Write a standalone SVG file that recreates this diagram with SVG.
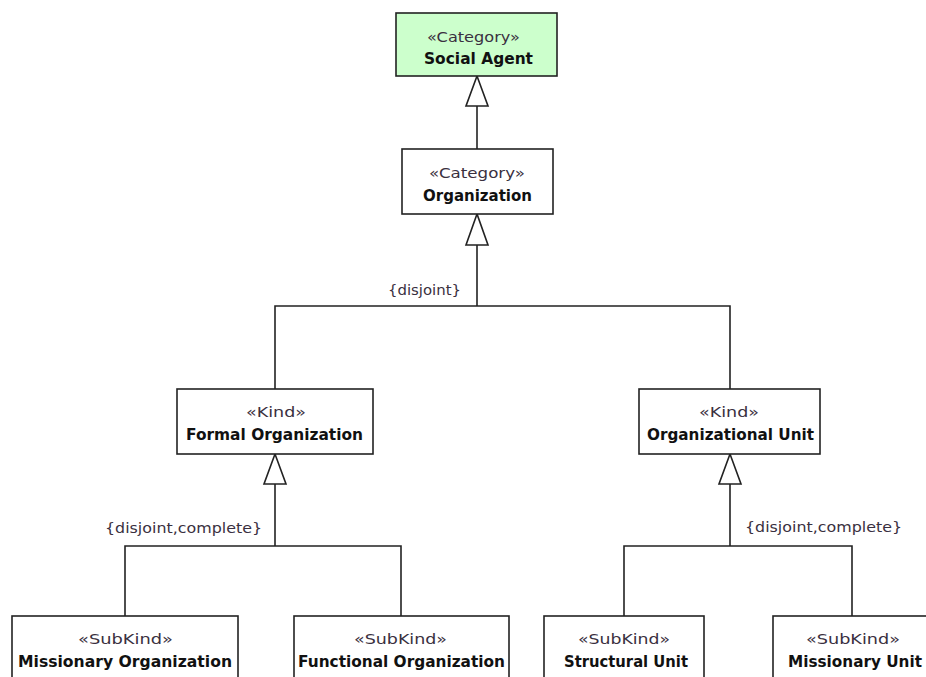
<svg xmlns="http://www.w3.org/2000/svg" width="926" height="677" viewBox="0 0 926 677">
<style>
.box{fill:#ffffff;stroke:#222222;stroke-width:1.6}
.green{fill:#ccffcc}
.st{font-family:"DejaVu Sans",Verdana,sans-serif;font-size:14px;fill:#3a3040;text-anchor:middle}
.nm{font-family:"DejaVu Sans",Verdana,sans-serif;font-size:15px;font-weight:bold;fill:#111111;text-anchor:middle}
.lbl{font-family:"DejaVu Sans",Verdana,sans-serif;font-size:14px;fill:#3a3040}
.ln{fill:none;stroke:#222222;stroke-width:1.6}
.tri{fill:#ffffff;stroke:#222222;stroke-width:1.6;stroke-linejoin:miter}
</style>
<rect width="926" height="677" fill="#ffffff"/>
<g id="connectors">
  <line class="ln" x1="477" y1="149" x2="477" y2="106"/>
  <polygon class="tri" points="477,76 466,106 488,106"/>
  <path class="ln" d="M275,389 V306 H730 V389 M477,306 V245"/>
  <polygon class="tri" points="477,214 466,245 488,245"/>
  <path class="ln" d="M125,616 V546 H401 V616 M275,546 V484"/>
  <polygon class="tri" points="275,454 264,484 286,484"/>
  <path class="ln" d="M624,616 V546 H852 V616 M730,546 V484"/>
  <polygon class="tri" points="730,454 719,484 741,484"/>
  <text class="lbl" x="388" y="294.5" textLength="73" lengthAdjust="spacingAndGlyphs">{disjoint}</text>
  <text class="lbl" x="105" y="532.5" textLength="157" lengthAdjust="spacingAndGlyphs">{disjoint,complete}</text>
  <text class="lbl" x="745" y="531.5" textLength="157" lengthAdjust="spacingAndGlyphs">{disjoint,complete}</text>
</g>
<g id="social-agent">
  <rect class="box green" x="396" y="13" width="161" height="63"/>
  <text class="st" x="473.5" y="41.5" textLength="93" lengthAdjust="spacingAndGlyphs">«Category»</text>
  <text class="nm" x="478.5" y="63.5" textLength="109" lengthAdjust="spacingAndGlyphs">Social Agent</text>
</g>
<g id="organization">
  <rect class="box" x="402" y="149" width="151" height="65"/>
  <text class="st" x="477" y="177.5" textLength="96" lengthAdjust="spacingAndGlyphs">«Category»</text>
  <text class="nm" x="477.5" y="200.5" textLength="109" lengthAdjust="spacingAndGlyphs">Organization</text>
</g>
<g id="formal-organization">
  <rect class="box" x="177" y="389" width="196" height="65"/>
  <text class="st" x="276" y="416.5" textLength="60" lengthAdjust="spacingAndGlyphs">«Kind»</text>
  <text class="nm" x="274.5" y="439.5" textLength="177" lengthAdjust="spacingAndGlyphs">Formal Organization</text>
</g>
<g id="organizational-unit">
  <rect class="box" x="639" y="389" width="181" height="65"/>
  <text class="st" x="729" y="416.5" textLength="60" lengthAdjust="spacingAndGlyphs">«Kind»</text>
  <text class="nm" x="730.5" y="439.5" textLength="167" lengthAdjust="spacingAndGlyphs">Organizational Unit</text>
</g>
<g id="missionary-organization">
  <rect class="box" x="12" y="616" width="226" height="80"/>
  <text class="st" x="125.5" y="643.5" textLength="95" lengthAdjust="spacingAndGlyphs">«SubKind»</text>
  <text class="nm" x="125" y="667" textLength="214" lengthAdjust="spacingAndGlyphs">Missionary Organization</text>
</g>
<g id="functional-organization">
  <rect class="box" x="294" y="616" width="215" height="80"/>
  <text class="st" x="400.5" y="643.5" textLength="93" lengthAdjust="spacingAndGlyphs">«SubKind»</text>
  <text class="nm" x="401.5" y="667" textLength="207" lengthAdjust="spacingAndGlyphs">Functional Organization</text>
</g>
<g id="structural-unit">
  <rect class="box" x="544" y="616" width="160" height="80"/>
  <text class="st" x="624" y="643.5" textLength="92" lengthAdjust="spacingAndGlyphs">«SubKind»</text>
  <text class="nm" x="626" y="667" textLength="124" lengthAdjust="spacingAndGlyphs">Structural Unit</text>
</g>
<g id="missionary-unit">
  <rect class="box" x="773" y="616" width="170" height="80"/>
  <text class="st" x="853" y="643.5" textLength="94" lengthAdjust="spacingAndGlyphs">«SubKind»</text>
  <text class="nm" x="855" y="667" textLength="134" lengthAdjust="spacingAndGlyphs">Missionary Unit</text>
</g>
</svg>
